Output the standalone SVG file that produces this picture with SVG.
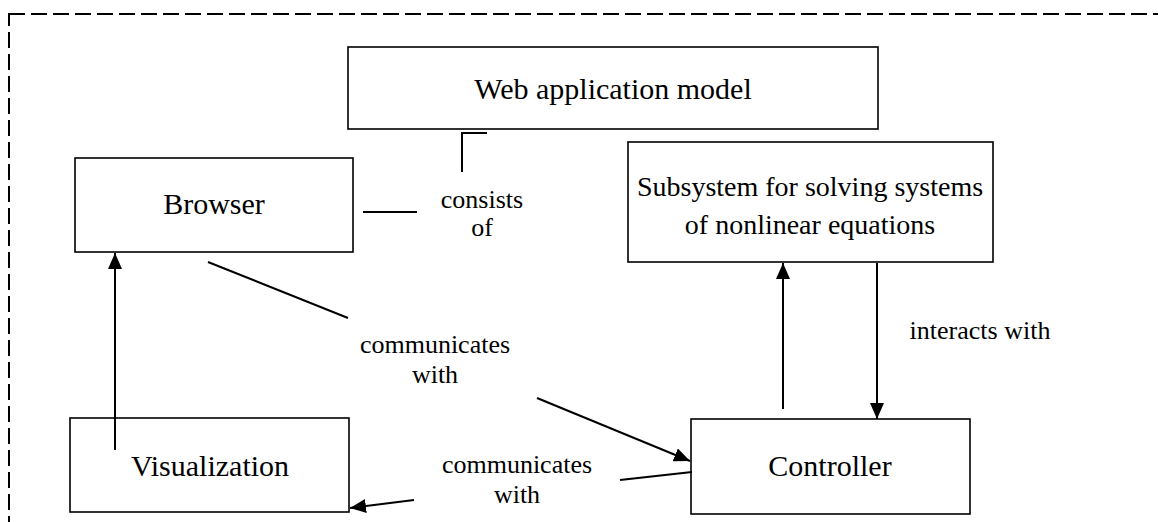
<svg xmlns="http://www.w3.org/2000/svg" width="1158" height="522" viewBox="0 0 1158 522">
<style>
.box{fill:#fff;stroke:#000;stroke-width:1.6}
.ln{fill:none;stroke:#000;stroke-width:2}
.nt{font-family:"Liberation Serif","Times New Roman",serif;font-size:28px;fill:#000;text-anchor:middle}
.nl{font-size:30px}
.et{font-family:"Liberation Serif","Times New Roman",serif;font-size:26px;fill:#000;text-anchor:middle}
</style>
<defs>
<marker id="ah" viewBox="0 0 16 14" refX="16" refY="7" markerWidth="16" markerHeight="14" markerUnits="userSpaceOnUse" orient="auto">
<path d="M0,0 L16,7 L0,14 Z" fill="#000"/>
</marker>
</defs>
<rect x="9" y="14" width="1170" height="530" fill="none" stroke="#000" stroke-width="2" stroke-dasharray="16,6"/>
<g id="web"><rect class="box" x="348" y="47" width="530" height="82"/><text class="nt nl" x="613" y="99">Web application model</text></g>
<g id="browser"><rect class="box" x="75" y="158" width="278" height="94"/><text class="nt nl" x="214" y="214">Browser</text></g>
<g id="subsystem"><rect class="box" x="628" y="142" width="365" height="120"/><text class="nt" x="810" y="196">Subsystem for solving systems</text><text class="nt" x="810" y="234">of nonlinear equations</text></g>
<g id="visualization"><rect class="box" x="70" y="418" width="279" height="94"/><text class="nt nl" x="210" y="476">Visualization</text></g>
<g id="controller"><rect class="box" x="691" y="419" width="279" height="95"/><text class="nt nl" x="830" y="476">Controller</text></g>
<g id="connectors">
<path class="ln" d="M462,172 L462,133 L487,133"/>
<path class="ln" d="M363,212 L417,212"/>
<path class="ln" d="M115,450 L115,253" marker-end="url(#ah)"/>
<path class="ln" d="M208,262 L348,318"/>
<path class="ln" d="M537,398 L690,461" marker-end="url(#ah)"/>
<path class="ln" d="M692,472 L620,480"/>
<path class="ln" d="M414,500 L350,508" marker-end="url(#ah)"/>
<path class="ln" d="M783,409 L783,263" marker-end="url(#ah)"/>
<path class="ln" d="M877,263 L877,419" marker-end="url(#ah)"/>
</g>
<g id="labels">
<text class="et" x="482" y="208">consists</text>
<text class="et" x="482" y="236">of</text>
<text class="et" x="435" y="353">communicates</text>
<text class="et" x="435" y="383">with</text>
<text class="et" x="980" y="339">interacts with</text>
<text class="et" x="517" y="473">communicates</text>
<text class="et" x="517" y="503">with</text>
</g>
</svg>
